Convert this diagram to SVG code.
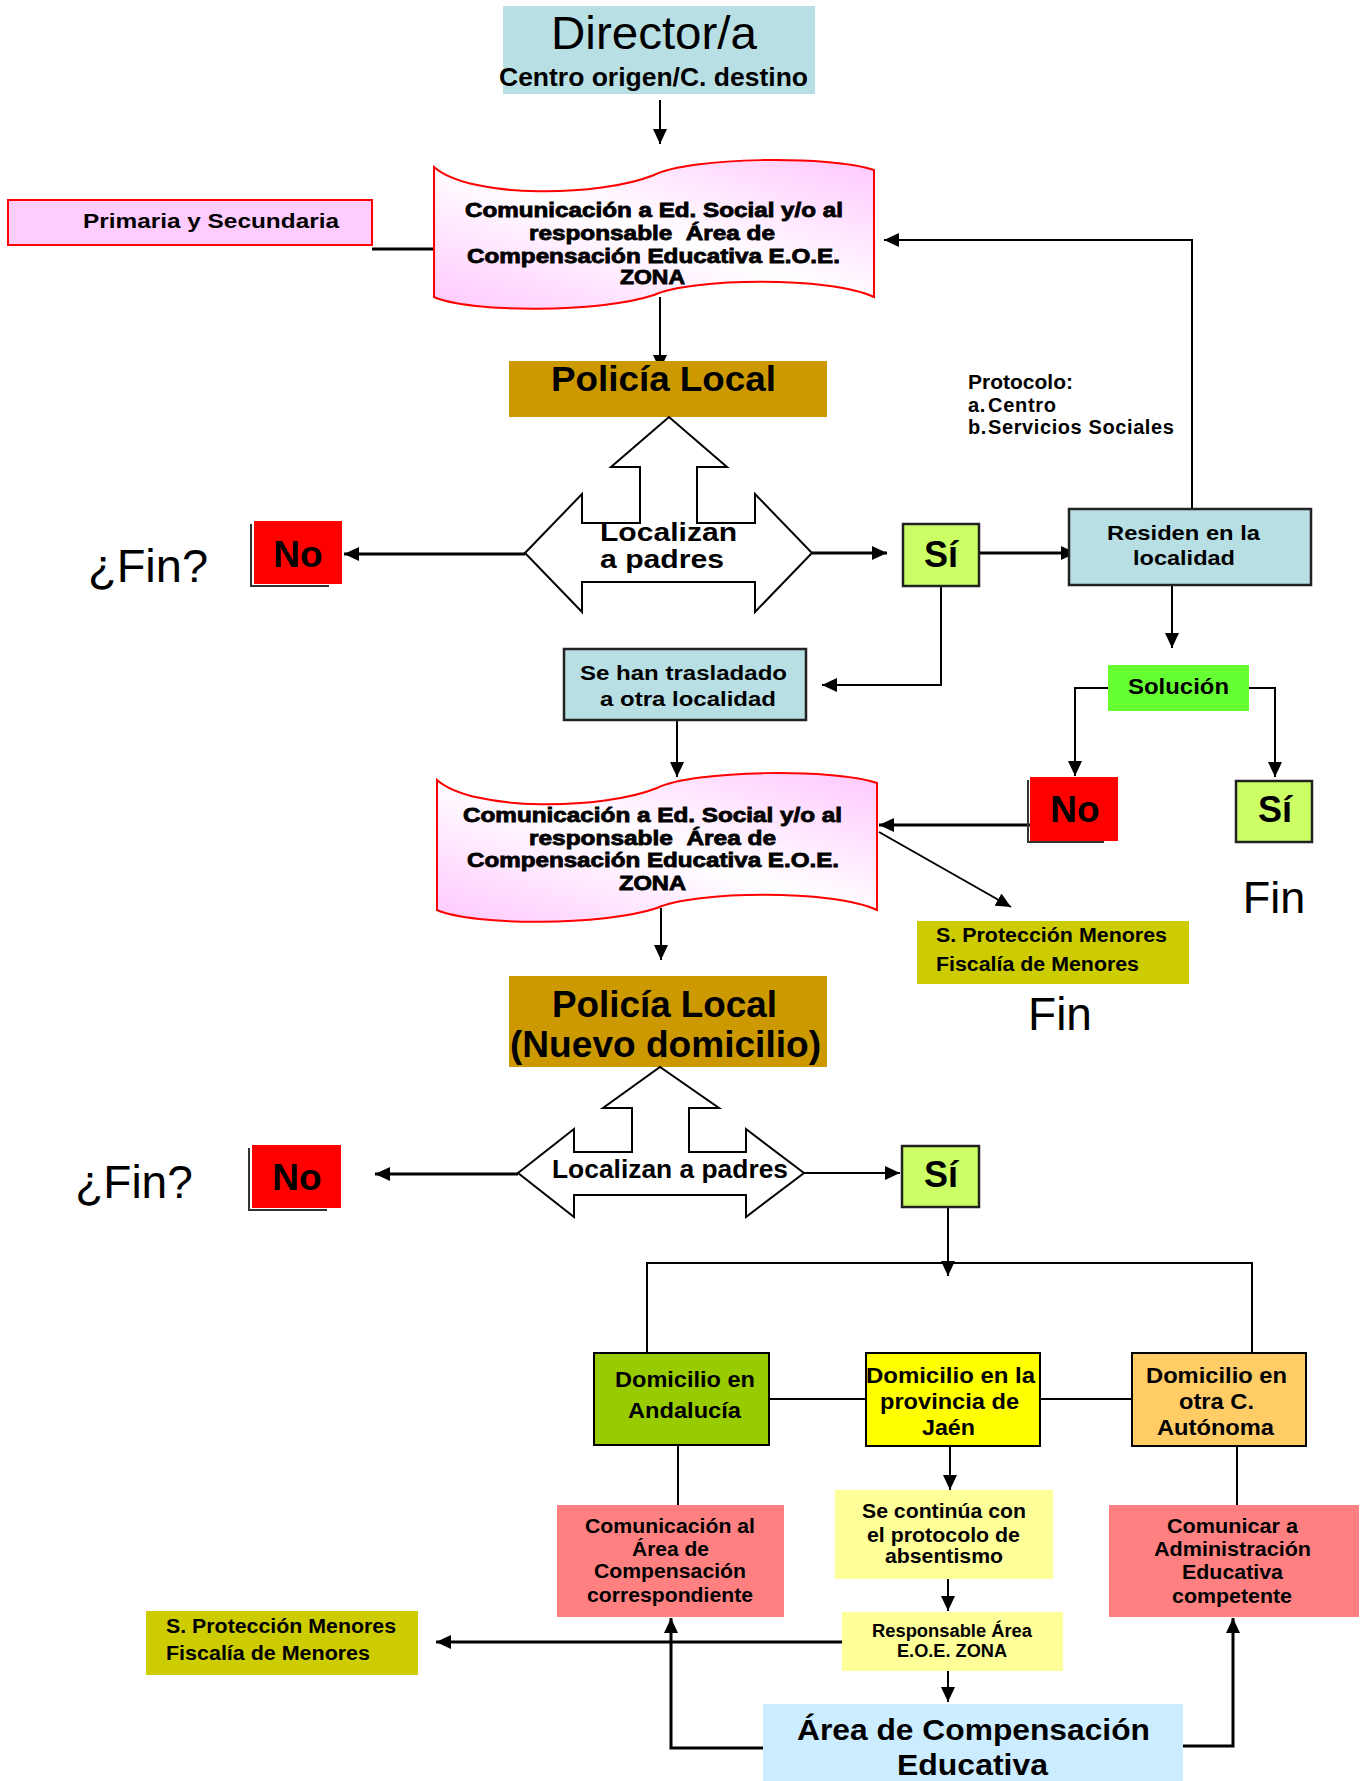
<svg xmlns="http://www.w3.org/2000/svg" width="1366" height="1781" viewBox="0 0 1366 1781">
<style>
text{font-family:"Liberation Sans",Arial,sans-serif;fill:#000}
.b{font-weight:bold}
.heavy{font-weight:bold;font-size:19.5px;stroke:#000;stroke-width:0.8;white-space:pre}
.s195{font-weight:bold;font-size:19.5px}
.ln{fill:none;stroke:#000;stroke-width:2}
.lt{fill:none;stroke:#000;stroke-width:3}
.bd{stroke:#222;stroke-width:2.5}
.blk{stroke:#000;stroke-width:2}
.sh{fill:none;stroke:#333;stroke-width:2}
.tape{fill:url(#pk);stroke:#FF0000;stroke-width:2}
</style>
<defs>
<marker id="ah" viewBox="0 0 15 14" refX="15" refY="7" markerWidth="15" markerHeight="14" markerUnits="userSpaceOnUse" orient="auto">
<path d="M0,0 L15,7 L0,14 Z" fill="#000"/>
</marker>
<linearGradient id="pk" x1="0" y1="1" x2="1" y2="0">
<stop offset="0" stop-color="#FFC8FF"/>
<stop offset="0.5" stop-color="#FFFFFF"/>
<stop offset="1" stop-color="#FFC8FF"/>
</linearGradient>
</defs>

<g id="connectors">
<path class="ln" d="M660,100 V144" marker-end="url(#ah)"/>
<path class="lt" d="M372,249 H436"/>
<path class="ln" d="M660,297 V370" marker-end="url(#ah)"/>
<path class="ln" d="M1192,509 V240 H884" marker-end="url(#ah)"/>
<path class="lt" d="M525,554 H344" marker-end="url(#ah)"/>
<path class="lt" d="M812,553 H887" marker-end="url(#ah)"/>
<path class="lt" d="M979,553 H1076" marker-end="url(#ah)"/>
<path class="ln" d="M941,586 V685 H822" marker-end="url(#ah)"/>
<path class="ln" d="M1172,586 V648" marker-end="url(#ah)"/>
<path class="ln" d="M1108,688 H1075 V776" marker-end="url(#ah)"/>
<path class="ln" d="M1249,688 H1275 V777" marker-end="url(#ah)"/>
<path class="lt" d="M1030,825 H879" marker-end="url(#ah)"/>
<path class="ln" d="M879,832 L1011,907" marker-end="url(#ah)"/>
<path class="ln" d="M677,720 V777" marker-end="url(#ah)"/>
<path class="ln" d="M661,908 V960" marker-end="url(#ah)"/>
<path class="lt" d="M518,1174 H375" marker-end="url(#ah)"/>
<path class="ln" d="M804,1173 H900" marker-end="url(#ah)"/>
<path class="ln" d="M948,1207 V1276" marker-end="url(#ah)"/>
<path class="ln" d="M647,1353 V1263 H1252 V1353"/>
<path class="ln" d="M769,1399 H866"/>
<path class="ln" d="M1040,1399 H1132"/>
<path class="ln" d="M678,1445 V1505"/>
<path class="ln" d="M950,1446 V1490" marker-end="url(#ah)"/>
<path class="ln" d="M1237,1446 V1505"/>
<path class="ln" d="M948,1579 V1611" marker-end="url(#ah)"/>
<path class="lt" d="M842,1642 H436" marker-end="url(#ah)"/>
<path class="ln" d="M948,1671 V1702" marker-end="url(#ah)"/>
<path class="lt" d="M763,1748 H671 V1618" marker-end="url(#ah)"/>
<path class="lt" d="M1183,1746 H1233 V1618" marker-end="url(#ah)"/>
</g>

<g id="director">
<rect x="503" y="6" width="312" height="88" fill="#B8DFE3"/>
<text x="551" y="49" font-size="46" textLength="206" lengthAdjust="spacingAndGlyphs">Director/a</text>
<text x="499" y="86" class="b" font-size="25" textLength="309" lengthAdjust="spacingAndGlyphs">Centro origen/C. destino</text>
</g>

<g id="primaria">
<rect x="8" y="200" width="364" height="45" fill="#FFCCFF" stroke="#FF0000" stroke-width="2"/>
<text x="83" y="228" class="b" font-size="21" textLength="256" lengthAdjust="spacingAndGlyphs">Primaria y Secundaria</text>
</g>

<g id="comunicacion1">
<path class="tape" d="M434,167 C470,199 600,197 654,175 C690,157 830,155 874,170 V297 C830,276 690,278 654,295 C600,313 470,313 434,297 Z"/>
<text x="465" y="217" class="heavy" textLength="378" lengthAdjust="spacingAndGlyphs">Comunicación a Ed. Social y/o al</text>
<text x="529" y="240" class="heavy" textLength="246" lengthAdjust="spacingAndGlyphs">responsable  Área de</text>
<text x="467" y="263" class="heavy" textLength="373" lengthAdjust="spacingAndGlyphs">Compensación Educativa E.O.E.</text>
<text x="620" y="284" class="heavy" textLength="65" lengthAdjust="spacingAndGlyphs">ZONA</text>
</g>

<g id="policia1">
<rect x="509" y="361" width="318" height="56" fill="#CC9900"/>
<text x="551" y="391" class="b" font-size="35" textLength="225" lengthAdjust="spacingAndGlyphs">Policía Local</text>
</g>

<g id="localizan1">
<path d="M525,553 L582,494 L582,523 L640,523 L640,467 L611,467 L669,417 L727,467 L697,467 L697,523 L755,523 L755,494 L812,553 L755,612 L755,582 L582,582 L582,612 Z" fill="#FFFFFF" stroke="#000" stroke-width="2"/>
<text x="600" y="541" class="b" font-size="25" textLength="137" lengthAdjust="spacingAndGlyphs">Localizan</text>
<text x="600" y="568" class="b" font-size="25" textLength="124" lengthAdjust="spacingAndGlyphs">a padres</text>
</g>

<g id="fin1">
<text x="148" y="582" font-size="47" text-anchor="middle">¿Fin?</text>
</g>

<g id="no1">
<path class="sh" d="M251,524 V586 H329"/>
<rect x="254" y="521" width="88" height="63" fill="#FF0000"/>
<text x="298" y="567" class="b" font-size="37" text-anchor="middle">No</text>
</g>

<g id="si1">
<rect x="903" y="524" width="76" height="62" fill="#CCFF66" class="bd"/>
<text x="941" y="567" class="b" font-size="36" text-anchor="middle">Sí</text>
</g>

<g id="protocolo">
<text x="968" y="389" class="b" font-size="20" textLength="105" lengthAdjust="spacingAndGlyphs">Protocolo:</text>
<text x="968" y="412" class="b" font-size="20" letter-spacing="0.7">a.<tspan x="988">Centro</tspan></text>
<text x="968" y="434" class="b" font-size="20" letter-spacing="0.6">b.<tspan x="988">Servicios Sociales</tspan></text>
</g>

<g id="residen">
<rect x="1069" y="509" width="242" height="76" fill="#B8DFE3" class="bd"/>
<text x="1107" y="540" class="b" font-size="21" textLength="153" lengthAdjust="spacingAndGlyphs">Residen en la</text>
<text x="1133" y="565" class="b" font-size="21" textLength="102" lengthAdjust="spacingAndGlyphs">localidad</text>
</g>

<g id="solucion">
<rect x="1108" y="665" width="141" height="46" fill="#66FF33"/>
<text x="1128" y="694" class="b" font-size="22" textLength="101" lengthAdjust="spacingAndGlyphs">Solución</text>
</g>

<g id="trasladado">
<rect x="564" y="649" width="242" height="71" fill="#B8DFE3" class="bd"/>
<text x="580" y="680" class="b" font-size="21" textLength="207" lengthAdjust="spacingAndGlyphs">Se han trasladado</text>
<text x="600" y="706" class="b" font-size="21" textLength="176" lengthAdjust="spacingAndGlyphs">a otra localidad</text>
</g>

<g id="no2">
<path class="sh" d="M1028,780 V842 H1104"/>
<rect x="1030" y="777" width="88" height="64" fill="#FF0000"/>
<text x="1075" y="822" class="b" font-size="37" text-anchor="middle">No</text>
</g>

<g id="si2">
<rect x="1236" y="781" width="76" height="61" fill="#CCFF66" class="bd"/>
<text x="1275" y="822" class="b" font-size="36" text-anchor="middle">Sí</text>
</g>

<g id="fin2">
<text x="1274" y="913" font-size="45" text-anchor="middle">Fin</text>
</g>

<g id="comunicacion2">
<path class="tape" d="M437,780 C473,812 603,810 657,788 C693,770 833,768 877,783 V910 C833,889 693,891 657,908 C603,926 473,926 437,910 Z"/>
<text x="463" y="822" class="heavy" textLength="379" lengthAdjust="spacingAndGlyphs">Comunicación a Ed. Social y/o al</text>
<text x="529" y="845" class="heavy" textLength="247" lengthAdjust="spacingAndGlyphs">responsable  Área de</text>
<text x="467" y="867" class="heavy" textLength="372" lengthAdjust="spacingAndGlyphs">Compensación Educativa E.O.E.</text>
<text x="619" y="890" class="heavy" textLength="67" lengthAdjust="spacingAndGlyphs">ZONA</text>
</g>

<g id="proteccion1">
<rect x="917" y="921" width="272" height="63" fill="#CCCC00"/>
<text x="936" y="942" class="s195" textLength="231" lengthAdjust="spacingAndGlyphs">S. Protección Menores</text>
<text x="936" y="971" class="s195" textLength="203" lengthAdjust="spacingAndGlyphs">Fiscalía de Menores</text>
</g>

<g id="fin3">
<text x="1060" y="1030" font-size="46" text-anchor="middle">Fin</text>
</g>

<g id="policia2">
<rect x="509" y="976" width="318" height="91" fill="#CC9900"/>
<text x="552" y="1017" class="b" font-size="37" textLength="225" lengthAdjust="spacingAndGlyphs">Policía Local</text>
<text x="510" y="1057" class="b" font-size="37" textLength="311" lengthAdjust="spacingAndGlyphs">(Nuevo domicilio)</text>
</g>

<g id="localizan2">
<path d="M518,1173 L574,1129 L574,1152 L632,1152 L632,1108 L603,1108 L660,1067 L719,1108 L689,1108 L689,1152 L746,1152 L746,1129 L804,1173 L746,1217 L746,1195 L574,1195 L574,1217 Z" fill="#FFFFFF" stroke="#000" stroke-width="2"/>
<text x="552" y="1178" class="b" font-size="26" textLength="236" lengthAdjust="spacingAndGlyphs">Localizan a padres</text>
</g>

<g id="fin4">
<text x="134" y="1198" font-size="46" text-anchor="middle">¿Fin?</text>
</g>

<g id="no3">
<path class="sh" d="M249,1148 V1210 H327"/>
<rect x="252" y="1145" width="89" height="63" fill="#FF0000"/>
<text x="297" y="1190" class="b" font-size="37" text-anchor="middle">No</text>
</g>

<g id="si3">
<rect x="902" y="1146" width="77" height="61" fill="#CCFF66" class="bd"/>
<text x="941" y="1187" class="b" font-size="36" text-anchor="middle">Sí</text>
</g>

<g id="andalucia">
<rect x="594" y="1353" width="175" height="92" fill="#99CC00" class="blk"/>
<text x="615" y="1387" class="b" font-size="22" textLength="140" lengthAdjust="spacingAndGlyphs">Domicilio en</text>
<text x="628" y="1418" class="b" font-size="22" textLength="113" lengthAdjust="spacingAndGlyphs">Andalucía</text>
</g>

<g id="jaen">
<rect x="866" y="1353" width="174" height="93" fill="#FFFF00" class="blk"/>
<text x="866" y="1383" class="b" font-size="22" textLength="169" lengthAdjust="spacingAndGlyphs">Domicilio en la</text>
<text x="880" y="1409" class="b" font-size="22" textLength="139" lengthAdjust="spacingAndGlyphs">provincia de</text>
<text x="922" y="1435" class="b" font-size="22" textLength="53" lengthAdjust="spacingAndGlyphs">Jaén</text>
</g>

<g id="otra">
<rect x="1132" y="1353" width="174" height="93" fill="#FFCC66" class="blk"/>
<text x="1146" y="1383" class="b" font-size="22" textLength="141" lengthAdjust="spacingAndGlyphs">Domicilio en</text>
<text x="1179" y="1409" class="b" font-size="22" textLength="75" lengthAdjust="spacingAndGlyphs">otra C.</text>
<text x="1157" y="1435" class="b" font-size="22" textLength="117" lengthAdjust="spacingAndGlyphs">Autónoma</text>
</g>

<g id="comunicacion-al">
<rect x="557" y="1505" width="227" height="112" fill="#FF8080"/>
<text x="585" y="1533" class="s195" textLength="170" lengthAdjust="spacingAndGlyphs">Comunicación al</text>
<text x="632" y="1556" class="s195" textLength="77" lengthAdjust="spacingAndGlyphs">Área de</text>
<text x="594" y="1578" class="s195" textLength="152" lengthAdjust="spacingAndGlyphs">Compensación</text>
<text x="587" y="1602" class="s195" textLength="166" lengthAdjust="spacingAndGlyphs">correspondiente</text>
</g>

<g id="continua">
<rect x="835" y="1490" width="218" height="89" fill="#FFFF99"/>
<text x="862" y="1518" class="b" font-size="20" textLength="164" lengthAdjust="spacingAndGlyphs">Se continúa con</text>
<text x="867" y="1542" class="b" font-size="20" textLength="153" lengthAdjust="spacingAndGlyphs">el protocolo de</text>
<text x="885" y="1563" class="b" font-size="20" textLength="118" lengthAdjust="spacingAndGlyphs">absentismo</text>
</g>

<g id="comunicar">
<rect x="1109" y="1505" width="250" height="112" fill="#FF8080"/>
<text x="1167" y="1533" class="s195" textLength="131" lengthAdjust="spacingAndGlyphs">Comunicar a</text>
<text x="1154" y="1556" class="s195" textLength="157" lengthAdjust="spacingAndGlyphs">Administración</text>
<text x="1182" y="1579" class="s195" textLength="101" lengthAdjust="spacingAndGlyphs">Educativa</text>
<text x="1172" y="1603" class="s195" textLength="120" lengthAdjust="spacingAndGlyphs">competente</text>
</g>

<g id="responsable">
<rect x="842" y="1612" width="221" height="59" fill="#FFFF99"/>
<text x="872" y="1637" class="b" font-size="18" textLength="160" lengthAdjust="spacingAndGlyphs">Responsable Área</text>
<text x="897" y="1657" class="b" font-size="18" textLength="110" lengthAdjust="spacingAndGlyphs">E.O.E. ZONA</text>
</g>

<g id="proteccion2">
<rect x="146" y="1611" width="272" height="64" fill="#CCCC00"/>
<text x="166" y="1633" class="s195" textLength="230" lengthAdjust="spacingAndGlyphs">S. Protección Menores</text>
<text x="166" y="1660" class="s195" textLength="204" lengthAdjust="spacingAndGlyphs">Fiscalía de Menores</text>
</g>

<g id="area">
<rect x="763" y="1704" width="420" height="80" fill="#CCECFF"/>
<text x="797" y="1740" class="b" font-size="30" textLength="353" lengthAdjust="spacingAndGlyphs">Área de Compensación</text>
<text x="897" y="1775" class="b" font-size="30" textLength="151" lengthAdjust="spacingAndGlyphs">Educativa</text>
</g>
</svg>
